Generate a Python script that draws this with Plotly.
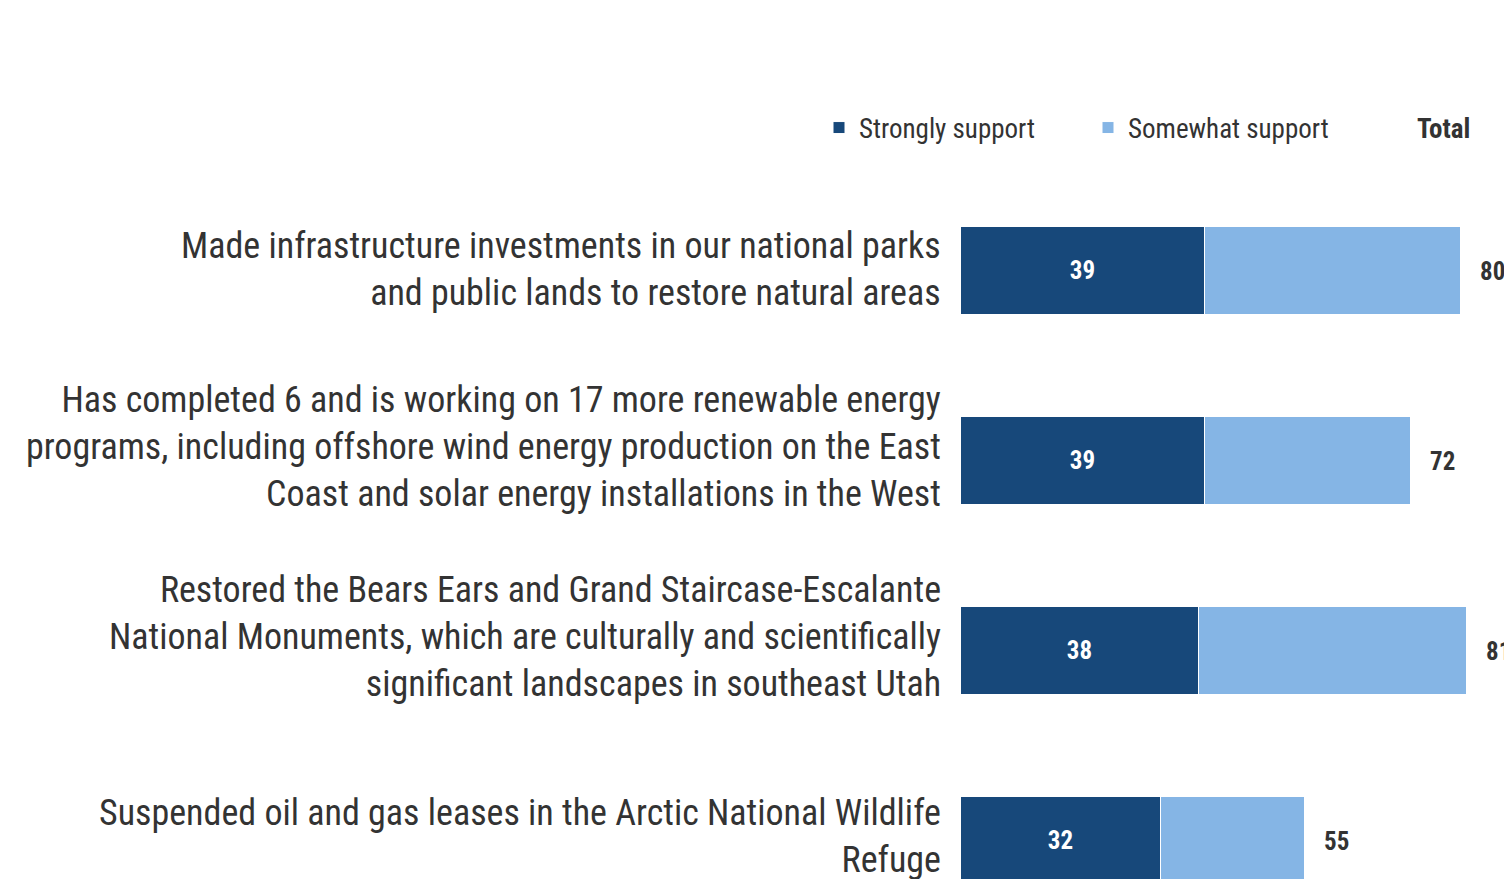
import plotly.graph_objects as go

categories = [
    "Made infrastructure investments in our national parks<br>and public lands to restore natural areas",
    "Has completed 6 and is working on 17 more renewable energy<br>programs, including offshore wind energy production on the East<br>Coast and solar energy installations in the West",
    "Restored the Bears Ears and Grand Staircase-Escalante<br>National Monuments, which are culturally and scientifically<br>significant landscapes in southeast Utah",
    "Suspended oil and gas leases in the Arctic National Wildlife<br>Refuge",
]
strongly = [39, 39, 38, 32]
somewhat = [41, 33, 43, 23]
totals = [80, 72, 81, 55]

DARK = "#17487a"
LIGHT = "#85b5e5"
TEXT = "#333333"
FONT = "Roboto Condensed"

pos = list(range(len(categories)))
label_shift = [2, 14, 14, 5]

W, H = 1512, 879
ML, MT = 953, 151
PX_PER_UNIT_X = 6.25
PX_PER_CAT = 190
CAT0 = 263  # figure pixel of first category centre
plot_h = H - MT
y_top = -(CAT0 - MT) / PX_PER_CAT
y_bot = y_top + plot_h / PX_PER_CAT

fig = go.Figure()
fig.add_trace(go.Bar(
    y=pos, x=strongly, orientation="h", name="Strongly support",
    marker=dict(color=DARK, line=dict(color="white", width=1)),
    width=0.458,
    text=[str(v) for v in strongly], textposition="inside", insidetextanchor="middle",
    textfont=dict(family=FONT, size=25, color="white", weight="bold"),
))
fig.add_trace(go.Bar(
    y=pos, x=somewhat, orientation="h", name="Somewhat support",
    marker=dict(color=LIGHT, line=dict(color="white", width=1)),
    width=0.458, hoverinfo="x",
))

def px_x(px):
    return (px - ML) / (W - ML)

def px_y(py):
    return (H - py) / plot_h

annotations = []
for i, (cat, tot) in enumerate(zip(categories, totals)):
    annotations.append(dict(
        x=0, y=i, xref="x", yref="y", text=cat, showarrow=False,
        xanchor="right", yanchor="middle", align="right", xshift=-18,
        yshift=label_shift[i],
        font=dict(family=FONT, size=36, color=TEXT),
    ))
    annotations.append(dict(
        x=tot, y=i, xref="x", yref="y", text=f"<b>{tot}</b>", showarrow=False,
        xanchor="left", yanchor="middle", xshift=17,
        font=dict(family=FONT, size=25, color=TEXT),
    ))
annotations.append(dict(
    x=px_x(1435), y=px_y(121), xref="paper", yref="paper", text="<b>Total</b>", showarrow=False,
    xanchor="center", yanchor="middle",
    font=dict(family=FONT, size=27, color=TEXT),
))

fig.update_layout(
    width=W, height=H,
    barmode="stack",
    plot_bgcolor="white", paper_bgcolor="white",
    margin=dict(l=ML, r=0, t=MT, b=0),
    xaxis=dict(range=[0, (W - ML) / PX_PER_UNIT_X], visible=False),
    yaxis=dict(range=[y_bot, y_top], visible=False),
    showlegend=True,
    legend=dict(
        orientation="h", x=px_x(811), y=px_y(120), xanchor="left", yanchor="middle",
        font=dict(family=FONT, size=27, color=TEXT),
        entrywidth=224, entrywidthmode="pixels",
        itemwidth=30, traceorder="normal",
        bgcolor="rgba(0,0,0,0)",
    ),
    annotations=annotations,
    bargap=0,
)

fig.write_html("out.html")
